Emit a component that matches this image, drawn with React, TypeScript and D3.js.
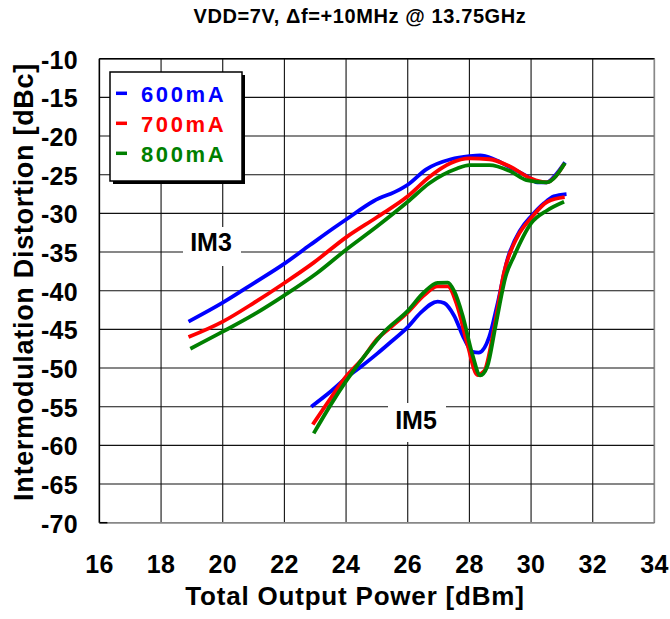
import React from "react";
import * as d3 from "d3";

const xTicks = [16, 18, 20, 22, 24, 26, 28, 30, 32, 34];
const yTicks = [-10, -15, -20, -25, -30, -35, -40, -45, -50, -55, -60, -65, -70];

const legendLabels = ["600mA", "700mA", "800mA"];
const seriesColors = ["#0000ff", "#ff0000", "#008000"];

const im3_600: [number, number][] = [
  [18.89, -44.0], [20, -41.55], [21, -39.05], [22, -36.5], [22.83, -34.1], [23.6, -31.9],
  [24, -30.8], [24.9, -28.4], [25.75, -26.9], [26, -26.3], [26.6, -24.3], [27.4, -23.0],
  [28, -22.6], [28.35, -22.5], [28.8, -23.0], [29.3, -24.0], [30, -25.5], [30.2, -26.0],
  [30.5, -26.0], [30.8, -25.0], [31.1, -23.4],
];
const im3_700: [number, number][] = [
  [18.89, -46.0], [20, -44.0], [21, -41.6], [22, -39.0], [22.94, -36.4], [24, -33.1],
  [25, -30.5], [26, -27.8], [26.7, -25.3], [27.4, -23.5], [28, -22.9], [28.65, -23.0],
  [29.3, -23.9], [30, -25.5], [30.5, -26.0], [30.8, -25.2], [31.08, -23.6],
];
const im3_800: [number, number][] = [
  [18.95, -47.5], [20, -45.3], [21, -43.1], [22, -40.6], [23.05, -37.75], [24, -34.7],
  [25, -31.7], [26, -28.5], [26.7, -26.1], [27.6, -24.2], [28, -23.75], [28.65, -23.75],
  [29.3, -24.5], [29.85, -25.7], [30.5, -26.0], [31.1, -23.5],
];
const im5_600: [number, number][] = [
  [22.87, -55.0], [23.51, -53.0], [24, -51.3], [24.49, -49.8], [25.02, -48.1], [25.46, -46.6],
  [26, -44.7], [26.43, -42.8], [26.97, -41.4], [27.18, -41.6], [27.5, -43.2], [27.83, -46.2],
  [28.1, -47.9], [28.3, -48.0], [28.64, -46.0], [28.9, -41.9], [29.23, -36.0], [29.66, -32.1],
  [30, -30.4], [30.42, -28.7], [30.74, -27.8], [31.15, -27.5],
];
const im5_700: [number, number][] = [
  [22.92, -57.3], [23.51, -53.85], [24, -51.1], [24.49, -49.0], [25.02, -46.2], [25.46, -44.7],
  [26, -42.8], [26.53, -40.6], [26.97, -39.45], [27.3, -39.45], [27.6, -41.9], [27.94, -47.0],
  [28.26, -50.9], [28.48, -50.4], [28.8, -44.9], [29.12, -37.7], [29.56, -33.0], [30, -30.6],
  [30.53, -28.5], [31.09, -27.9],
];
const im5_800: [number, number][] = [
  [22.95, -58.45], [23.51, -54.7], [24, -51.7], [24.49, -49.0], [25.24, -45.3], [26, -42.6],
  [26.53, -40.2], [26.97, -39.0], [27.3, -38.95], [27.5, -40.0], [27.78, -43.2], [28.1, -48.3],
  [28.35, -50.95], [28.58, -49.8], [28.85, -44.5], [29.18, -38.1], [29.45, -35.5], [30, -31.3],
  [30.53, -29.6], [31.07, -28.5],
];

const im3Series = [im3_600, im3_700, im3_800];
const im5Series = [im5_600, im5_700, im5_800];

const titleText = "VDD=7V, \u0394f=+10MHz @ 13.75GHz";
const xTitle = "Total Output Power [dBm]";
const yTitle = "Intermodulation Distortion [dBc]";

const FONT = "'Liberation Sans', Arial, Helvetica, sans-serif";

export default function App() {
  const left = 99.4, right = 654.4, top = 58.7, bottom = 522.7;
  const x = d3.scaleLinear().domain([16, 34]).range([left, right]);
  const y = d3.scaleLinear().domain([-70, -10]).range([bottom, top]);
  const line = d3
    .line<[number, number]>()
    .x((d) => x(d[0]))
    .y((d) => y(d[1]))
    .curve(d3.curveMonotoneX);

  return (
    <svg
      width={670}
      height={619}
      style={{ position: "absolute", left: 0, top: 0, background: "#fff" }}
      fontFamily={FONT}
    >
      <rect x={0} y={0} width={670} height={619} fill="#fff" />
      <text x={360} y={22.5} textAnchor="middle" fontSize={20} fontWeight="bold" letterSpacing={0.6}>
        {titleText}
      </text>

      {/* grid */}
      {xTicks.map((t) => (
        <line key={"gx" + t} x1={x(t)} x2={x(t)} y1={top} y2={bottom} stroke="#111" strokeWidth={1.1} />
      ))}
      {yTicks.map((t) => (
        <line key={"gy" + t} x1={left} x2={right} y1={y(t)} y2={y(t)} stroke="#111" strokeWidth={1.1} />
      ))}
      {/* frame */}
      <line x1={left} x2={right} y1={top} y2={top} stroke="#000" strokeWidth={1.5} />
      <line x1={left} x2={left} y1={top} y2={bottom} stroke="#000" strokeWidth={1.5} />
      <line x1={right} x2={right} y1={top} y2={bottom} stroke="#888" strokeWidth={1.5} />
      <line x1={left} x2={right} y1={bottom} y2={bottom} stroke="#888" strokeWidth={1.5} />
      <line x1={left} x2={left + 8} y1={bottom} y2={bottom} stroke="#000" strokeWidth={1.5} />

      {/* label boxes */}
      <rect x={183} y={227} width={58} height={39} fill="#fff" />
      <text x={211} y={251} textAnchor="middle" fontSize={25} fontWeight="bold">IM3</text>
      <rect x={388} y={403} width={58} height={39} fill="#fff" />
      <text x={416} y={429} textAnchor="middle" fontSize={25} fontWeight="bold">IM5</text>

      {/* series */}
      {im3Series.map((s, i) => (
        <path key={"im3" + i} d={line(s) || ""} fill="none" stroke={seriesColors[i]} strokeWidth={3.8} strokeLinejoin="round" />
      ))}
      {im5Series.map((s, i) => (
        <path key={"im5" + i} d={line(s) || ""} fill="none" stroke={seriesColors[i]} strokeWidth={3.8} strokeLinejoin="round" />
      ))}

      {/* legend */}
      <rect x={113} y={75} width={132} height={109} fill="#000" />
      <rect x={110} y={72} width={132} height={109} fill="#fff" stroke="#000" strokeWidth={1.5} />
      {legendLabels.map((lab, i) => (
        <g key={lab}>
          <line x1={116} x2={127} y1={93.3 + i * 30} y2={93.3 + i * 30} stroke={seriesColors[i]} strokeWidth={3.5} />
          <text x={141} y={101.5 + i * 30} fontSize={22} fontWeight="bold" fill={seriesColors[i]} letterSpacing={2.6}>
            {lab}
          </text>
        </g>
      ))}

      {/* ticks */}
      {yTicks.map((t) => (
        <text key={"ty" + t} x={78} y={y(t) + 10} textAnchor="end" fontSize={25} fontWeight="bold" letterSpacing={0.3}>
          {t}
        </text>
      ))}
      {xTicks.map((t) => (
        <text key={"tx" + t} x={x(t)} y={573} textAnchor="middle" fontSize={25} fontWeight="bold" letterSpacing={0.3}>
          {t}
        </text>
      ))}

      <text x={355} y={605} textAnchor="middle" fontSize={26} fontWeight="bold" letterSpacing={0.8}>
        {xTitle}
      </text>
      <text
        transform={`translate(33, 282) rotate(-90)`}
        textAnchor="middle"
        fontSize={27}
        fontWeight="bold"
        letterSpacing={0.7}
      >
        {yTitle}
      </text>
    </svg>
  );
}
